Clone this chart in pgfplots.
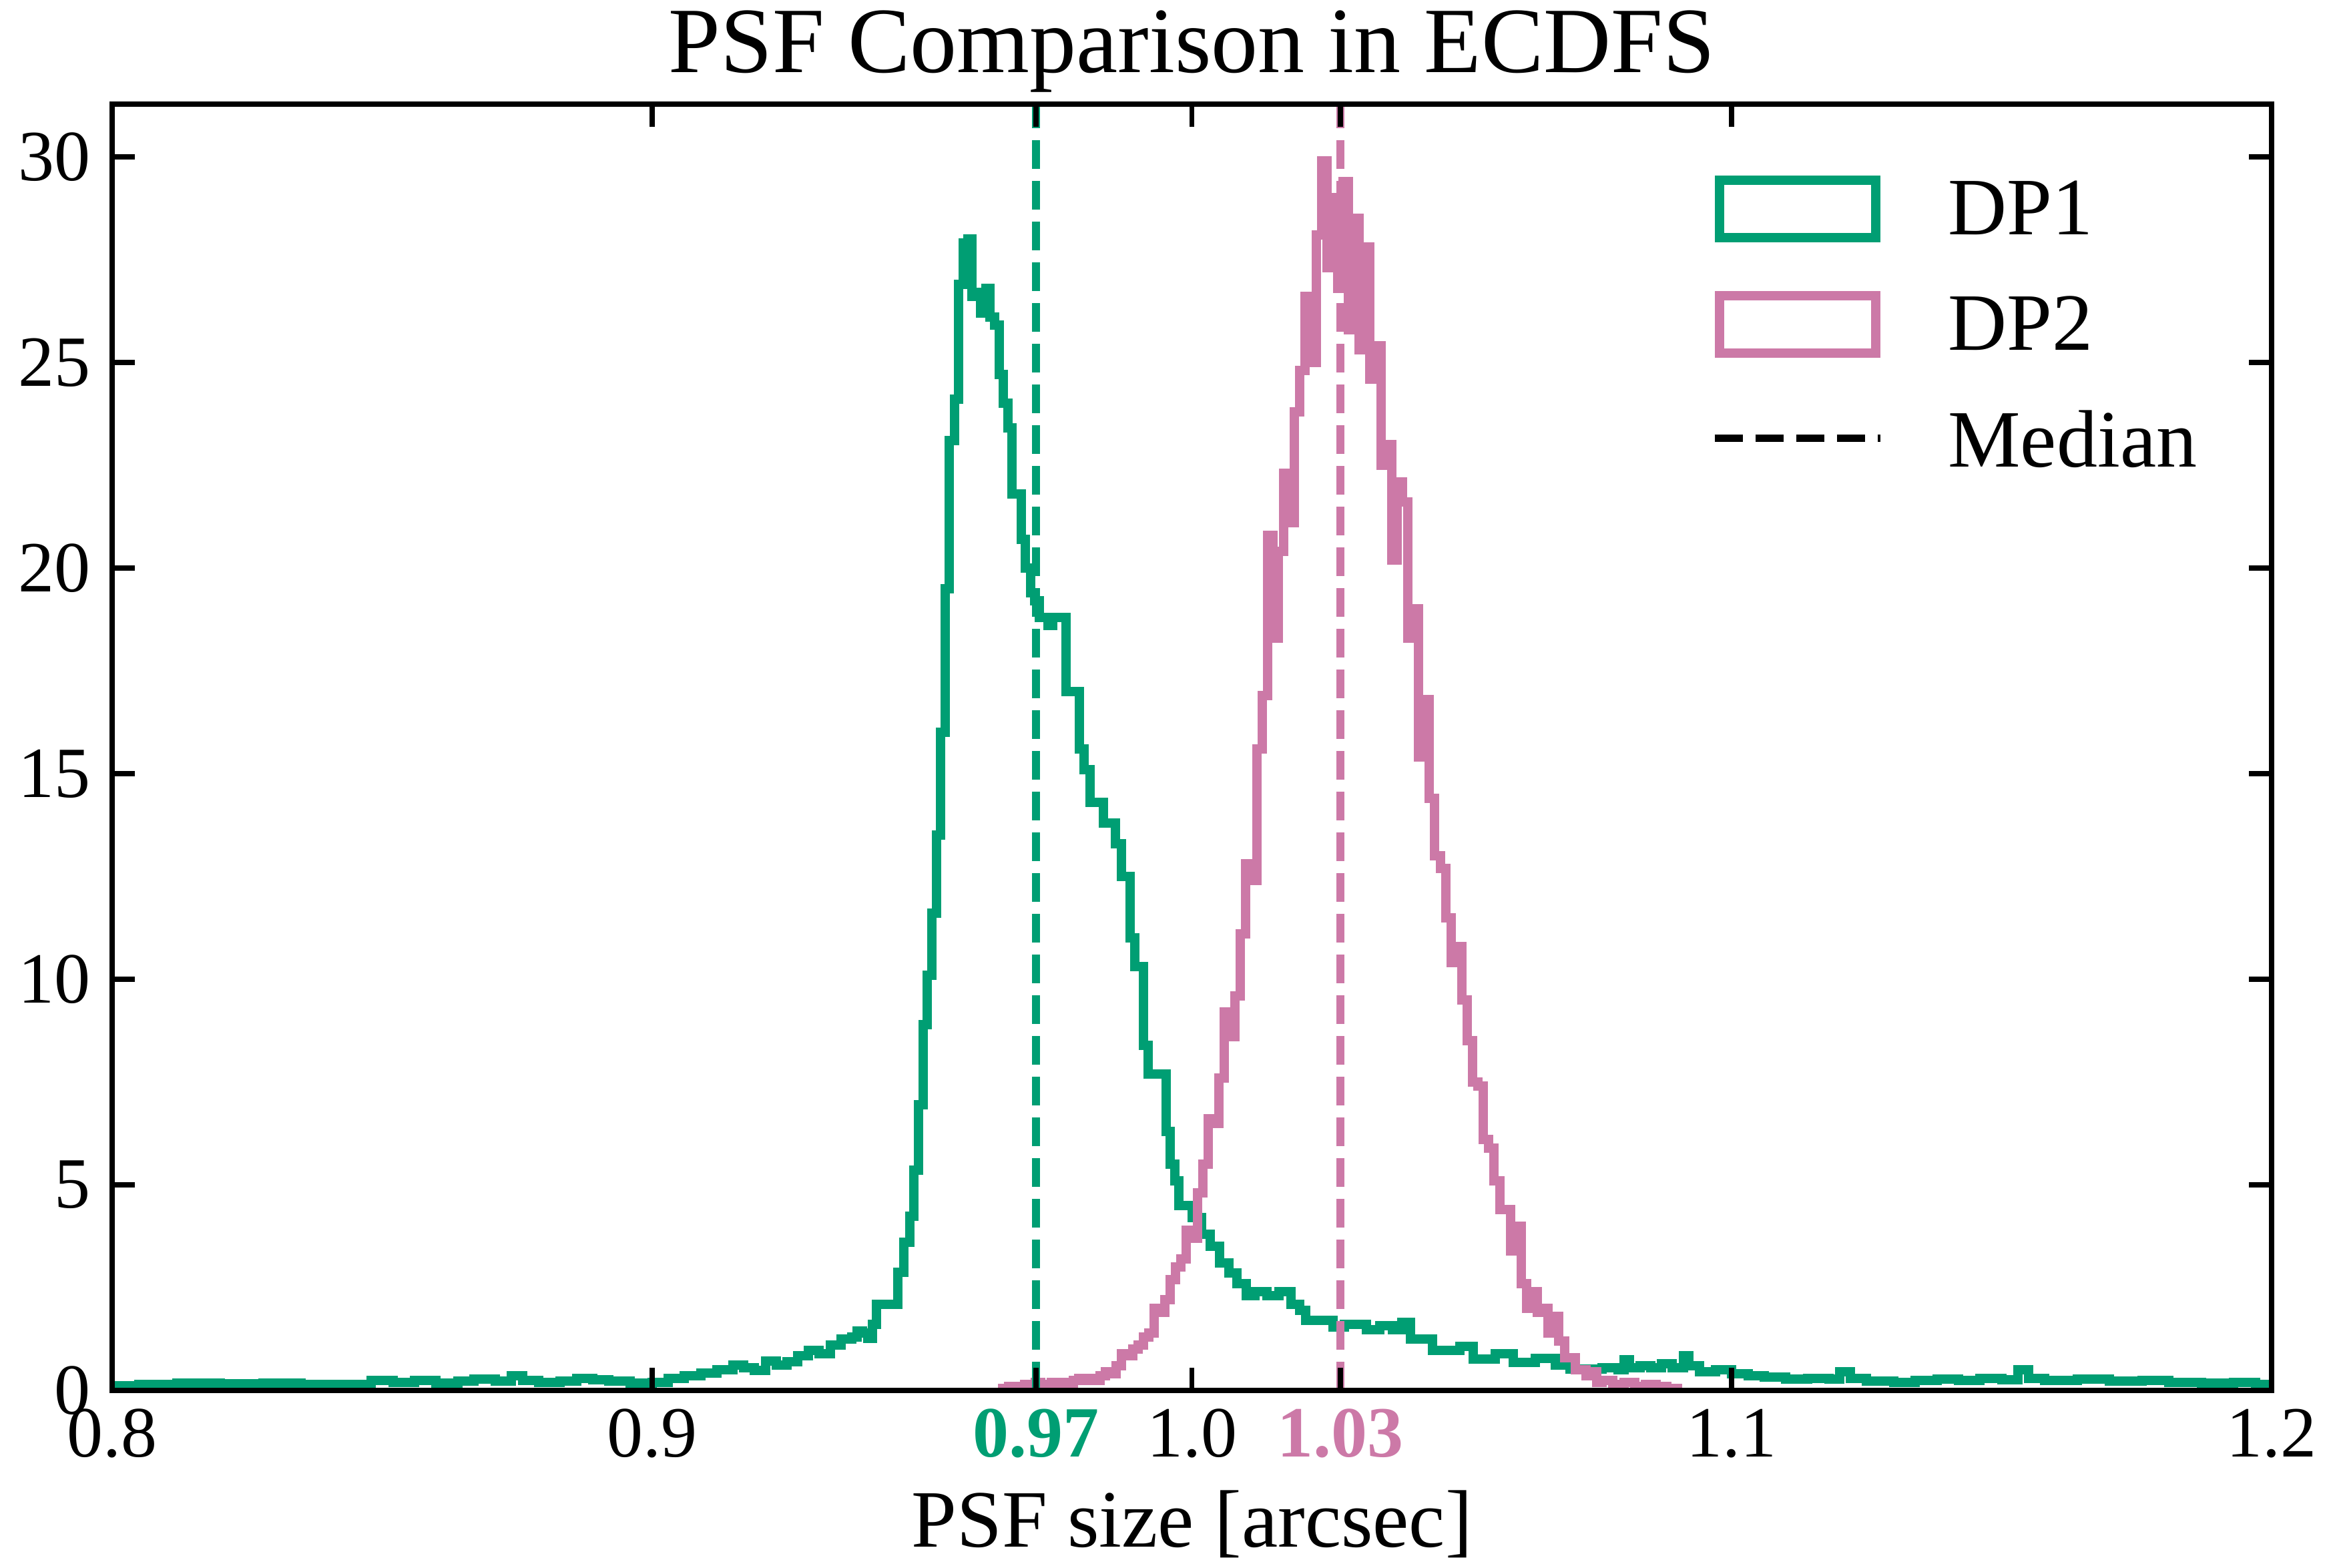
\documentclass[border=0pt]{standalone}
\usepackage{pgfplots}
\pgfplotsset{compat=1.18}
\usepackage{fontspec}
\setmainfont{Liberation Serif}
\definecolor{dpgreen}{RGB}{0,158,115}
\definecolor{dppink}{RGB}{204,121,167}
\pgfplotsset{
  greenleg/.style={legend image code/.code={\path[draw=none,fill=none] (0pt,-6pt) rectangle (24.8pt,8pt); \draw[dpgreen, line width=1.4pt, solid] (0.7pt,-3.7pt) rectangle (24.1pt,4.9pt);}},
  pinkleg/.style={legend image code/.code={\path[draw=none,fill=none] (0pt,-6pt) rectangle (24.8pt,8pt); \draw[dppink, line width=1.4pt, solid] (0.7pt,-3.7pt) rectangle (24.1pt,4.9pt);}},
  medleg/.style={legend image code/.code={\path[draw=none,fill=none] (0pt,-6pt) rectangle (24.8pt,8pt); \draw[black, line width=1.15pt, dash pattern=on 4.26pt off 1.84pt] (0pt,0.8pt) -- (24.8pt,0.8pt);}},
}
\begin{document}
\begin{tikzpicture}
\begin{axis}[
  name=ax,
  scale only axis,
  width=323.5pt, height=192.7pt,
  xmin=0.8, xmax=1.2, ymin=0, ymax=31.28,
  axis on top,
  tick align=inside,
  major tick length=3.4pt,
  every tick/.style={line width=0.77pt, black},
  axis line style={line width=0.77pt},
  xtick={0.8,0.9,0.9711,1.0,1.0275,1.1,1.2},
  xticklabels={0.8,0.9,{\bfseries\color{dpgreen}0.97},1.0,{\bfseries\color{dppink}1.03},1.1,1.2},
  ytick={0,5,10,15,20,25,30},
  yticklabels={0,5,10,15,20,25,30},
  minor tick num=0,
  ticklabel style={font=\fontsize{10.8}{12}\selectfont},
  xticklabel style={anchor=base, inner sep=0pt, yshift=-9.9pt},
  yticklabel style={anchor=east, inner sep=0pt, xshift=-3pt},
  xlabel={PSF size [arcsec]},
  xlabel style={at={(axis description cs:0.5,0)}, anchor=base, yshift=-23.4pt, font=\fontsize{12.2}{14}\selectfont},
  title={PSF Comparison in ECDFS},
  every axis title shift=0pt,
  title style={at={(axis description cs:0.5,1)}, anchor=base, yshift=4.7pt, font=\fontsize{14}{17}\selectfont},
  legend style={draw=none, fill=none, at={(rel axis cs:0.7397,0.958)}, anchor=north west,
    inner sep=0pt, row sep=2.5pt, column sep=7.6pt, font=\fontsize{12.2}{14}\selectfont},
  legend cell align=left,
]
\addplot[dpgreen, line width=1.4pt, const plot, greenleg]
table[x=x,y=y] {
x y
0.795 0.12
0.805 0.15
0.812 0.18
0.820 0.16
0.828 0.18
0.835 0.14
0.842 0.15
0.848 0.24
0.852 0.20
0.856 0.25
0.860 0.18
0.864 0.22
0.867 0.27
0.871 0.22
0.874 0.35
0.876 0.25
0.879 0.20
0.883 0.22
0.886 0.30
0.889 0.26
0.892 0.22
0.896 0.18
0.900 0.20
0.903 0.30
0.906 0.35
0.909 0.43
0.912 0.50
0.915 0.62
0.917 0.55
0.919 0.48
0.921 0.72
0.923 0.62
0.925 0.70
0.927 0.85
0.929 0.98
0.931 0.90
0.933 1.10
0.935 1.25
0.937 1.30
0.938 1.45
0.939 1.40
0.9400 1.26
0.9408 1.60
0.9416 2.10
0.9455 2.88
0.9466 3.60
0.9477 4.24
0.9485 5.36
0.9494 6.94
0.9502 8.90
0.9510 10.1
0.9518 11.6
0.9527 13.5
0.9535 16.0
0.9543 19.5
0.9551 23.1
0.9560 24.1
0.9568 26.9
0.9576 27.9
0.9585 28.0
0.9593 26.6
0.9601 26.7
0.9609 26.2
0.9618 26.8
0.9626 26.1
0.9634 25.9
0.9643 24.7
0.9651 24.0
0.9659 23.4
0.9667 21.8
0.9684 20.7
0.9692 20.0
0.9701 19.4
0.9709 19.2
0.9717 18.8
0.9734 18.6
0.9742 18.8
0.9767 17.0
0.9792 15.6
0.9800 15.1
0.9811 14.3
0.9836 13.8
0.9858 13.3
0.9869 12.5
0.9885 11.0
0.9894 10.3
0.9910 8.4
0.9919 7.7
0.9952 6.3
0.9960 5.5
0.9968 5.1
0.9976 4.5
1.0001 4.2
1.0018 3.8
1.0034 3.5
1.0051 3.1
1.0068 2.85
1.0084 2.6
1.0101 2.3
1.0117 2.4
1.0139 2.3
1.0161 2.4
1.0183 2.1
1.0200 1.95
1.0211 1.70
1.0261 1.55
1.0282 1.60
1.0323 1.48
1.0348 1.58
1.0372 1.48
1.0389 1.65
1.0405 1.25
1.0446 0.98
1.0496 1.07
1.0521 0.76
1.0562 0.90
1.0595 0.68
1.0636 0.78
1.0673 0.62
1.0700 0.52
1.076 0.55
1.079 0.50
1.080 0.75
1.081 0.55
1.083 0.60
1.085 0.55
1.087 0.65
1.089 0.55
1.091 0.85
1.092 0.60
1.094 0.45
1.097 0.50
1.100 0.40
1.103 0.35
1.106 0.32
1.110 0.28
1.114 0.30
1.118 0.28
1.120 0.45
1.122 0.30
1.125 0.22
1.130 0.20
1.134 0.24
1.138 0.28
1.142 0.25
1.146 0.30
1.150 0.26
1.153 0.50
1.155 0.30
1.158 0.25
1.164 0.28
1.170 0.22
1.176 0.25
1.181 0.20
1.187 0.18
1.193 0.20
1.197 0.15
1.205 0.15
};
\addlegendentry{DP1}
\addplot[dppink, line width=1.4pt, const plot, pinkleg]
table[x=x,y=y] {
x y
0.965 0
0.965 0.05
0.966 0.10
0.967 0.10
0.968 0.05
0.969 0.15
0.970 0.10
0.971 0.20
0.972 0.15
0.973 0.15
0.974 0.20
0.975 0.15
0.976 0.20
0.977 0.15
0.978 0.25
0.979 0.30
0.980 0.25
0.981 0.30
0.982 0.25
0.983 0.35
0.984 0.45
0.985 0.40
0.986 0.60
0.987 0.90
0.988 0.85
0.989 1.00
0.990 1.10
0.991 1.30
0.992 1.40
0.993 2.00
0.994 1.90
0.995 2.20
0.996 2.70
0.997 3.00
0.998 3.20
0.999 3.90
1.000 3.70
1.001 4.80
1.002 5.50
1.003 6.60
1.004 6.50
1.005 7.60
1.006 9.20
1.007 8.60
1.008 9.60
1.009 11.1
1.010 12.8
1.011 12.4
1.012 15.6
1.013 16.9
1.014 20.8
1.015 18.3
1.016 20.4
1.017 22.3
1.018 21.1
1.019 23.8
1.020 24.8
1.021 26.6
1.022 25.0
1.023 28.1
1.024 29.9
1.025 27.3
1.026 29.0
1.027 26.8
1.028 29.4
1.029 25.8
1.030 28.5
1.031 25.3
1.032 27.8
1.033 24.6
1.034 25.4
1.035 22.5
1.036 23.0
1.037 20.2
1.038 22.1
1.039 21.6
1.040 18.3
1.041 19.0
1.042 15.4
1.043 16.8
1.044 14.4
1.045 13.0
1.046 12.7
1.047 11.5
1.048 10.4
1.049 10.8
1.050 9.5
1.051 8.5
1.052 7.5
1.053 7.4
1.054 6.1
1.055 5.9
1.056 5.1
1.057 4.4
1.058 4.4
1.059 3.4
1.060 4.0
1.061 2.6
1.062 2.0
1.063 2.4
1.064 1.9
1.065 2.0
1.066 1.4
1.067 1.8
1.068 1.2
1.069 0.8
1.070 0.8
1.071 0.5
1.072 0.5
1.073 0.35
1.074 0.45
1.075 0.2
1.076 0.25
1.078 0.15
1.080 0.20
1.082 0.10
1.084 0.15
1.086 0.10
1.088 0.05
1.090 0
};
\addlegendentry{DP2}
\addlegendimage{black, medleg}
\addlegendentry{Median}
\addplot[forget plot, dpgreen, line width=1.15pt, dash pattern=on 4.26pt off 1.84pt] coordinates {(0.9711,0) (0.9711,31.28)};
\addplot[forget plot, dppink, line width=1.15pt, dash pattern=on 4.26pt off 1.84pt] coordinates {(1.0275,0) (1.0275,31.28)};
\end{axis}
\pgfresetboundingbox
\useasboundingbox ([shift={(-16.8pt,-26.5pt)}]ax.south west) rectangle ([shift={(8.9pt,15.6pt)}]ax.north east);
\end{tikzpicture}
\end{document}
